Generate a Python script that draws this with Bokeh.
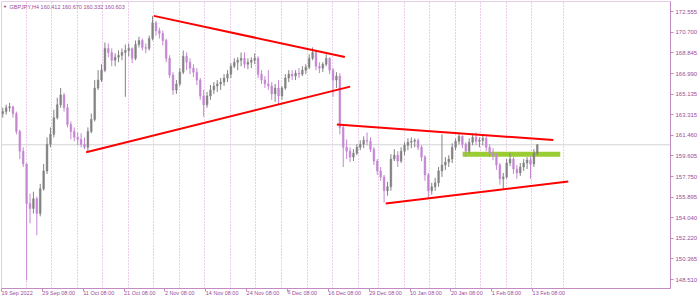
import numpy as np
from bokeh.plotting import figure
from bokeh.models import FixedTicker, Span, Label, PrintfTickFormatter
from bokeh.embed import file_html
from bokeh.resources import INLINE

# ---------------- data ----------------
symbol_text = "GBPJPY,H4"
last_bar_ohlc = ["160.412", "160.670", "160.332", "160.603"]
last_price = 160.603
bars_per_candle = 4  # each drawn candle groups four H4 bars

opens = [163.40, 163.58, 163.93, 164.02, 163.40, 161.80, 160.03, 158.88, 155.33, 154.89,
         155.77, 154.44, 156.66, 158.26, 160.65, 161.54, 163.04, 164.20, 165.08, 163.93,
         162.42, 161.80, 161.27, 161.09, 160.65, 160.38, 161.80, 162.87, 165.70, 166.41,
         167.30, 169.25, 168.89, 168.19, 168.45, 168.63, 168.89, 169.07, 169.25, 168.36,
         169.60, 169.96, 169.34, 169.25, 170.14, 171.55, 170.84, 170.58, 169.96, 168.36,
         166.86, 165.53, 166.06, 167.12, 168.54, 168.01, 167.48, 167.12, 166.41, 164.99,
         164.20, 164.99, 165.53, 165.88, 166.06, 166.23, 166.59, 166.94, 167.65, 168.01,
         168.19, 168.36, 167.83, 168.01, 168.19, 168.36, 166.94, 166.41, 166.06, 165.88,
         165.17, 165.70, 164.99, 165.70, 166.59, 166.94, 166.77, 167.03, 166.94, 167.30,
         167.56, 168.36, 168.89, 167.65, 167.48, 167.83, 168.36, 167.30, 166.41, 166.77,
         162.16, 160.38, 160.03, 159.50, 159.85, 160.38, 160.65, 161.00, 160.92, 160.21,
         159.14, 158.26, 157.72, 156.48, 156.84, 159.32, 159.67, 159.14, 160.03, 160.56,
         160.83, 160.92, 161.00, 160.38, 159.50, 157.90, 156.48, 156.84, 157.19, 158.26,
         158.79, 159.05, 159.32, 160.38, 160.92, 161.36, 160.65, 160.03, 160.83, 161.27,
         160.92, 161.00, 161.18, 160.38, 159.85, 159.59, 158.79, 157.55, 157.72, 158.97,
         159.32, 158.43, 158.08, 158.61, 158.97, 159.23, 158.88, 159.85]

highs = [163.93, 164.20, 164.37, 164.11, 163.58, 161.98, 160.38, 158.95, 156.22, 156.39,
         155.95, 157.10, 158.88, 161.27, 162.16, 163.75, 164.82, 165.70, 165.26, 164.28,
         162.69, 162.16, 161.71, 161.63, 161.27, 162.16, 163.40, 166.41, 167.30, 167.83,
         169.78, 169.69, 169.25, 168.81, 169.07, 169.25, 169.60, 169.69, 169.34, 169.96,
         170.31, 170.14, 169.69, 170.40, 172.17, 171.73, 171.11, 170.84, 170.14, 168.63,
         167.12, 166.41, 167.48, 169.07, 168.89, 168.36, 167.83, 167.48, 166.59, 165.53,
         165.35, 165.97, 166.23, 166.41, 166.59, 166.94, 167.30, 167.92, 168.36, 168.45,
         168.89, 168.89, 168.36, 168.45, 168.81, 168.54, 167.30, 166.77, 167.30, 166.23,
         166.06, 166.41, 165.88, 166.94, 167.30, 167.30, 167.30, 167.48, 167.65, 167.83,
         168.72, 169.34, 169.07, 168.01, 168.01, 168.72, 168.45, 167.48, 167.12, 167.03,
         162.42, 161.09, 160.38, 160.21, 160.65, 161.00, 161.36, 161.71, 161.27, 160.38,
         159.32, 158.61, 157.90, 157.28, 159.76, 160.21, 160.03, 160.38, 160.83, 161.18,
         161.27, 161.18, 161.18, 160.56, 159.67, 158.08, 157.19, 157.64, 158.61, 161.54,
         159.50, 159.67, 160.74, 161.18, 161.71, 161.45, 160.83, 161.18, 161.63, 161.71,
         161.27, 161.45, 161.36, 160.65, 160.30, 159.85, 158.97, 158.08, 159.32, 159.85,
         159.50, 158.79, 158.97, 159.32, 159.50, 159.59, 160.21, 160.67]

lows = [163.04, 163.31, 163.58, 163.04, 161.54, 159.32, 158.61, 148.42, 153.56, 154.44,
        152.49, 154.18, 156.48, 157.99, 160.38, 161.27, 162.87, 163.93, 163.58, 162.16,
        161.09, 160.92, 160.56, 160.38, 160.21, 159.94, 161.63, 162.69, 165.53, 166.23,
        167.12, 168.45, 167.65, 167.65, 168.01, 168.19, 164.91, 168.54, 167.92, 168.19,
        169.34, 169.07, 168.81, 169.07, 169.96, 170.40, 170.14, 169.51, 168.01, 166.59,
        165.08, 165.17, 165.88, 166.94, 167.30, 166.94, 166.68, 165.97, 164.64, 163.13,
        163.93, 164.64, 165.17, 165.35, 165.53, 165.88, 166.23, 166.59, 167.48, 167.30,
        167.65, 167.48, 167.39, 167.48, 167.83, 166.59, 166.06, 165.70, 165.53, 164.64,
        164.46, 164.20, 164.64, 165.53, 166.23, 166.41, 166.41, 166.59, 166.77, 166.94,
        167.39, 168.19, 167.30, 167.03, 167.12, 167.65, 166.94, 164.91, 165.70, 161.54,
        158.61, 159.32, 159.05, 159.14, 159.67, 160.12, 160.30, 160.56, 159.94, 158.79,
        157.90, 157.37, 155.42, 156.04, 156.48, 159.14, 158.61, 158.97, 159.67, 160.12,
        160.30, 160.38, 160.12, 159.14, 157.37, 155.77, 156.13, 156.48, 156.84, 157.72,
        158.35, 158.61, 158.97, 160.12, 160.65, 160.30, 159.50, 159.85, 160.56, 160.56,
        160.38, 160.56, 160.03, 159.50, 159.23, 158.35, 157.02, 156.66, 157.55, 158.70,
        157.99, 157.55, 157.81, 158.26, 158.43, 157.55, 158.61, 159.67]

closes = [163.58, 163.93, 164.02, 163.40, 161.80, 160.03, 158.88, 155.33, 154.89, 155.77,
          154.44, 156.66, 158.26, 160.65, 161.54, 163.04, 164.20, 165.08, 163.93, 162.42,
          161.80, 161.27, 161.09, 160.65, 160.38, 161.80, 162.87, 165.70, 166.41, 167.30,
          169.25, 168.89, 168.19, 168.45, 168.63, 168.89, 169.07, 169.25, 168.36, 169.60,
          169.96, 169.34, 169.25, 170.14, 171.55, 170.84, 170.58, 169.96, 168.36, 166.86,
          165.53, 166.06, 167.12, 168.54, 168.01, 167.48, 167.12, 166.41, 164.99, 164.20,
          164.99, 165.53, 165.88, 166.06, 166.23, 166.59, 166.94, 167.65, 168.01, 168.19,
          168.36, 167.83, 168.01, 168.19, 168.36, 166.94, 166.41, 166.06, 165.88, 165.17,
          165.70, 164.99, 165.70, 166.59, 166.94, 166.77, 167.03, 166.94, 167.30, 167.56,
          168.36, 168.89, 167.65, 167.48, 167.83, 168.36, 167.30, 166.41, 166.77, 162.16,
          160.38, 160.03, 159.50, 159.85, 160.38, 160.65, 161.00, 160.92, 160.21, 159.14,
          158.26, 157.72, 156.48, 156.84, 159.32, 159.67, 159.14, 160.03, 160.56, 160.83,
          160.92, 161.00, 160.38, 159.50, 157.90, 156.48, 156.84, 157.19, 158.26, 158.79,
          159.05, 159.32, 160.38, 160.92, 161.36, 160.65, 160.03, 160.83, 161.27, 160.92,
          161.00, 161.18, 160.38, 159.85, 159.59, 158.79, 157.55, 157.72, 158.97, 159.32,
          158.43, 158.08, 158.61, 158.97, 159.23, 158.88, 159.85, 160.603]

y_tick_values = [172.555, 170.700, 168.845, 166.990, 165.135, 163.315, 161.460,
                 159.605, 157.750, 155.895, 154.040, 152.220, 150.365, 148.510]

x_label_bars = [0, 48, 96, 144, 192, 240, 288, 336, 384, 432, 480, 528, 576, 624]
x_labels = ["19 Sep 2022", "29 Sep 08:00", "11 Oct 08:00", "21 Oct 08:00", "2 Nov 08:00",
            "14 Nov 08:00", "24 Nov 08:00", "6 Dec 08:00", "16 Dec 08:00", "29 Dec 08:00",
            "10 Jan 08:00", "20 Jan 08:00", "1 Feb 08:00", "13 Feb 08:00"]

week_grid_bars = [29, 59, 89, 119, 149, 179, 209, 239, 269, 299, 329, 359, 389, 419,
                  443, 473, 503, 533, 563, 593, 623, 660]

# trend lines (bar index, price)
trend_x0 = [179.0, 99.5, 394.0, 451.4]
trend_y0 = [172.17, 159.94, 162.42, 155.33]
trend_x1 = [403.4, 409.6, 648.3, 665.9]
trend_y1 = [168.48, 165.82, 161.03, 157.31]

# support zone
zone_left, zone_right = [541.8], [656.5]
zone_bottom, zone_top = [159.54], [159.99]

x_view = (0, 786)
y_view = (147.71, 173.46)

# ---------------- styling ----------------
BULL = "#828282"
BEAR = "#c487d2"
AXIS = "#c48ac4"
TEXT = "#9a4c9a"
FONT = "Liberation Sans"

p = figure(width=700, height=301, x_range=x_view, y_range=y_view,
           y_axis_location="right", toolbar_location=None, output_backend="svg",
           min_border_left=1, min_border_top=1, min_border_right=0, min_border_bottom=0)
p.background_fill_color = "white"
p.border_fill_color = "white"
p.outline_line_color = "#e6cce6"
p.ygrid.visible = False
p.xgrid.ticker = FixedTicker(ticks=week_grid_bars)
p.xgrid.grid_line_color = "#d59cd5"
p.xgrid.grid_line_dash = "1 2"
p.xgrid.grid_line_width = 1

xa = p.xaxis[0]
xa.ticker = FixedTicker(ticks=x_label_bars)
xa.major_label_overrides = {b: s for b, s in zip(x_label_bars, x_labels)}
xa.major_label_orientation = -0.0001
xa.minor_tick_line_color = None
xa.major_tick_in = 0
xa.major_tick_out = 3
xa.axis_line_color = AXIS
xa.major_tick_line_color = AXIS
xa.major_label_text_color = TEXT
xa.major_label_text_font = FONT
xa.major_label_text_font_size = "5.5px"
xa.major_label_standoff = 1

ya = p.yaxis[0]
ya.ticker = FixedTicker(ticks=y_tick_values)
ya.formatter = PrintfTickFormatter(format="%.3f")
ya.minor_tick_line_color = None
ya.major_tick_in = 0
ya.major_tick_out = 3
ya.axis_line_color = AXIS
ya.major_tick_line_color = AXIS
ya.major_label_text_color = TEXT
ya.major_label_text_font = FONT
ya.major_label_text_font_size = "6px"
ya.major_label_standoff = 2

# current price line
p.add_layout(Span(location=last_price, dimension="width", line_color="#d2d2d2",
                  line_width=1, level="underlay"))

# support zone
p.quad(left=zone_left, right=zone_right, bottom=zone_bottom, top=zone_top,
       fill_color="#9acd32", line_color=None)

# candles
o = np.array(opens); h = np.array(highs); l = np.array(lows); c = np.array(closes)
xc = np.arange(len(o)) * bars_per_candle + (bars_per_candle - 1) / 2
colors = [BULL if cc >= oo else BEAR for oo, cc in zip(o, c)]
p.segment(x0=xc, y0=h, x1=xc, y1=l, line_color=colors, line_width=1)
p.vbar(x=xc, width=bars_per_candle * 0.5, top=np.maximum(o, c), bottom=np.minimum(o, c),
       fill_color=colors, line_color=colors, line_width=0.5)

# trend lines
p.segment(x0=trend_x0, y0=trend_y0, x1=trend_x1, y1=trend_y1,
          line_color="#ff0000", line_width=2)

# header text
p.add_layout(Label(x=x_view[0], y=y_view[1], x_offset=1.5, y_offset=-2.5, text="\u25bc",
                   text_font=FONT, text_font_size="4px", text_color="#7a2a7a",
                   text_baseline="top", text_align="left"))
p.add_layout(Label(x=x_view[0], y=y_view[1], x_offset=8, y_offset=-2,
                   text=symbol_text + "  " + " ".join(last_bar_ohlc),
                   text_font=FONT, text_font_size="5.5px", text_color=TEXT,
                   text_baseline="top", text_align="left"))

# current price tag on the axis
p.add_layout(Label(x=x_view[1], y=last_price, x_offset=0.5, text=f"{last_price:.3f}",
                   text_font=FONT, text_font_size="6px", text_color="white",
                   background_fill_color="#800080", text_baseline="middle",
                   text_align="left", padding=1))

open("out.html", "w").write(file_html(p, INLINE))
